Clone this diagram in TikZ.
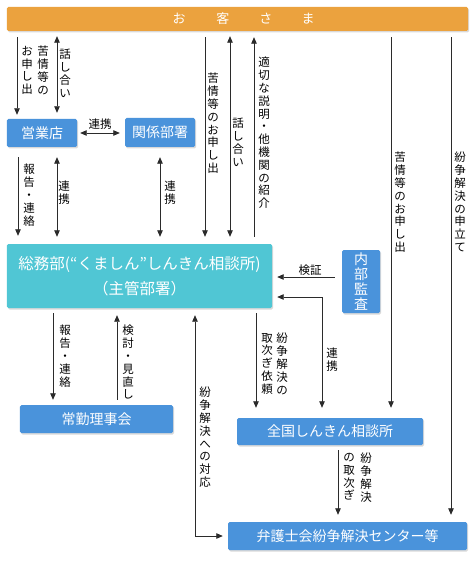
\documentclass[tikz,border=0pt]{standalone}
\usepackage{fontspec}
\newfontfamily\jp{Noto Sans CJK JP}
\usetikzlibrary{arrows.meta,shadows}
\definecolor{custorange}{HTML}{EBA23E}
\definecolor{boxblue}{HTML}{4A93DB}
\definecolor{boxteal}{HTML}{50C6D4}
\definecolor{lineg}{HTML}{2B2B2B}
% stack the characters of #1 one under another
\makeatletter
\newcommand\tate[1]{\tate@i#1\@nil}
\def\tate@i#1#2\@nil{#1\ifx\relax#2\relax\expandafter\@gobble\else\expandafter\@firstofone\fi{\\\tate@i#2\@nil}}
\makeatother
\tikzset{
  box/.style={fill=boxblue,rounded corners=1.5bp,text=white,inner sep=0pt,font=\jp\fontsize{14bp}{16bp}\selectfont,drop shadow={opacity=0.3,shadow xshift=1.2bp,shadow yshift=-1.5bp}},
  vlab/.style={anchor=north,align=center,inner sep=0pt,font=\jp\fontsize{11.5bp}{12.8bp}\selectfont},
  hlab/.style={inner sep=0pt,font=\jp\fontsize{11.5bp}{12.8bp}\selectfont},
  arr/.style={draw=lineg,line width=0.8bp,-{Triangle[length=6.5bp,width=5.5bp]}},
  darr/.style={arr,{Triangle[length=6.5bp,width=5.5bp]}-{Triangle[length=6.5bp,width=5.5bp]}},
}
\begin{document}
\begin{tikzpicture}[x=1bp,y=-1bp]
  \useasboundingbox (0,0) rectangle (475,564);
  % boxes
  \node[box,fill=custorange,minimum width=461bp,minimum height=24bp,font=\jp\fontsize{13bp}{15bp}\selectfont] (cust) at (237.5,19) {\hspace*{12bp}お\hspace{31bp}客\hspace{30bp}さ\hspace{29bp}ま};
  \node[box,minimum width=70bp,minimum height=28bp] (eigyo) at (42,133) {営業店};
  \node[box,minimum width=70bp,minimum height=29bp] (kankei) at (160,132.5) {関係部署};
  \node[box,fill=boxteal,minimum width=265bp,minimum height=64bp,align=center,font=\jp\fontsize{15.5bp}{25bp}\selectfont] (somu) at (139.5,276) {総務部(“くましん”しんきん相談所)\\（主管部署）};
  \node[box,minimum width=38bp,minimum height=63bp,align=center,font=\jp\fontsize{14bp}{14.8bp}\selectfont] (naibu) at (361,281.5) {\tate{内部監査}};
  \node[box,minimum width=153bp,minimum height=28bp] (jokin) at (96.5,419) {常勤理事会};
  \node[box,minimum width=186bp,minimum height=27bp] (zenkoku) at (330,431.5) {全国しんきん相談所};
  \node[box,minimum width=239bp,minimum height=28bp] (bengo) at (347.5,536) {弁護士会紛争解決センター等};
  % where the connectors run
  \coordinate (xa) at (17,0);
  \coordinate (xb) at (57,0);
  \coordinate (xc) at (18,0);
  \coordinate (xd) at (160,0);
  \coordinate (xe) at (205,0);
  \coordinate (xf) at (230,0);
  \coordinate (xg) at (254,0);
  \coordinate (xh) at (391,0);
  \coordinate (xi) at (451,0);
  \coordinate (xj) at (322,297);
  \coordinate (xk) at (0,277);
  \coordinate (xl) at (256,0);
  \coordinate (xm) at (53,0);
  \coordinate (xn) at (117,0);
  \coordinate (xo) at (195,0);
  \coordinate (xp) at (338,0);
  % customer and branch
  \draw[arr,shorten <=6bp,shorten >=4bp] (cust.south -| xa) -- (eigyo.north -| xa);
  \draw[darr,shorten <=5bp,shorten >=6bp] (cust.south -| xb) -- (eigyo.north -| xb);
  \node[vlab] (l1a) at (43,46) {\tate{苦情等の}};
  \node[vlab] (l1b) at (27,46) {\tate{お申し出}};
  \node[vlab] (l2) at (65,49) {\tate{話し合い}};
  \draw[darr,shorten <=3bp,shorten >=5bp] (eigyo.east) -- (kankei.west |- eigyo.east);
  \node[hlab] (l3) at (100,124) {連携};
  % down to the main office
  \draw[arr,shorten <=10bp,shorten >=8bp] (eigyo.south -| xc) -- (somu.north -| xc);
  \draw[darr,shorten <=10bp,shorten >=7bp] (eigyo.south -| xb) -- (somu.north -| xb);
  \draw[darr,shorten <=10bp,shorten >=7bp] (kankei.south -| xd) -- (somu.north -| xd);
  \node[vlab] (l4) at (29,164) {\tate{報告・連絡}};
  \node[vlab] (l5) at (64,181) {\tate{連携}};
  \node[vlab] (l6) at (170,181) {\tate{連携}};
  % customer and main office
  \draw[arr,shorten <=6bp,shorten >=7bp] (cust.south -| xe) -- (somu.north -| xe);
  \draw[darr,shorten <=5bp,shorten >=7bp] (cust.south -| xf) -- (somu.north -| xf);
  \draw[arr,shorten <=7bp,shorten >=6bp] (somu.north -| xg) -- (cust.south -| xg);
  \node[vlab] (l7) at (213,73) {\tate{苦情等のお申し出}};
  \node[vlab] (l8) at (238,118) {\tate{話し合い}};
  \node[vlab] (l9) at (264,57) {\tate{適切な説明・他機関の紹介}};
  % customer straight to the outside bodies
  \draw[arr,shorten <=6bp,shorten >=10bp] (cust.south -| xh) -- (zenkoku.north -| xh);
  \draw[arr,shorten <=6bp,shorten >=7bp] (cust.south -| xi) -- (bengo.north -| xi);
  \node[vlab] (l10) at (400,152) {\tate{苦情等のお申し出}};
  \node[vlab] (l11) at (460,152) {\tate{紛争解決の申立て}};
  % audit
  \draw[arr,shorten <=7bp,shorten >=5bp] (naibu.west |- xk) -- (somu.east |- xk);
  \node[hlab] (l12) at (310,270) {検証};
  \draw[darr,shorten <=10bp,shorten >=5bp] (zenkoku.north -| xj) |- (somu.east |- xj);
  \node[vlab] (l13) at (332,348) {\tate{連携}};
  % main office and the national centre
  \draw[arr,shorten <=5bp,shorten >=10bp] (somu.south -| xl) -- (zenkoku.north -| xl);
  \node[vlab] (l14a) at (282,333) {\tate{紛争解決の}};
  \node[vlab] (l14b) at (267,333) {\tate{取次ぎ依頼}};
  % board
  \draw[arr,shorten <=5bp,shorten >=5bp] (somu.south -| xm) -- (jokin.north -| xm);
  \draw[arr,shorten <=5bp,shorten >=7bp] (jokin.north -| xn) -- (somu.south -| xn);
  \node[vlab] (l15) at (65,325) {\tate{報告・連絡}};
  \node[vlab] (l16) at (128,325) {\tate{検討・見直し}};
  % bar association
  \draw[darr,shorten <=5bp,shorten >=7bp] (bengo.west) -| (somu.south -| xo);
  \node[vlab] (l17) at (205,387) {\tate{紛争解決への対応}};
  \draw[arr,shorten <=5bp,shorten >=7bp] (zenkoku.south -| xp) -- (bengo.north -| xp);
  \node[vlab] (l18a) at (366,453) {\tate{紛争解決}};
  \node[vlab] (l18b) at (349,453) {\tate{の取次ぎ}};
\end{tikzpicture}
\end{document}
